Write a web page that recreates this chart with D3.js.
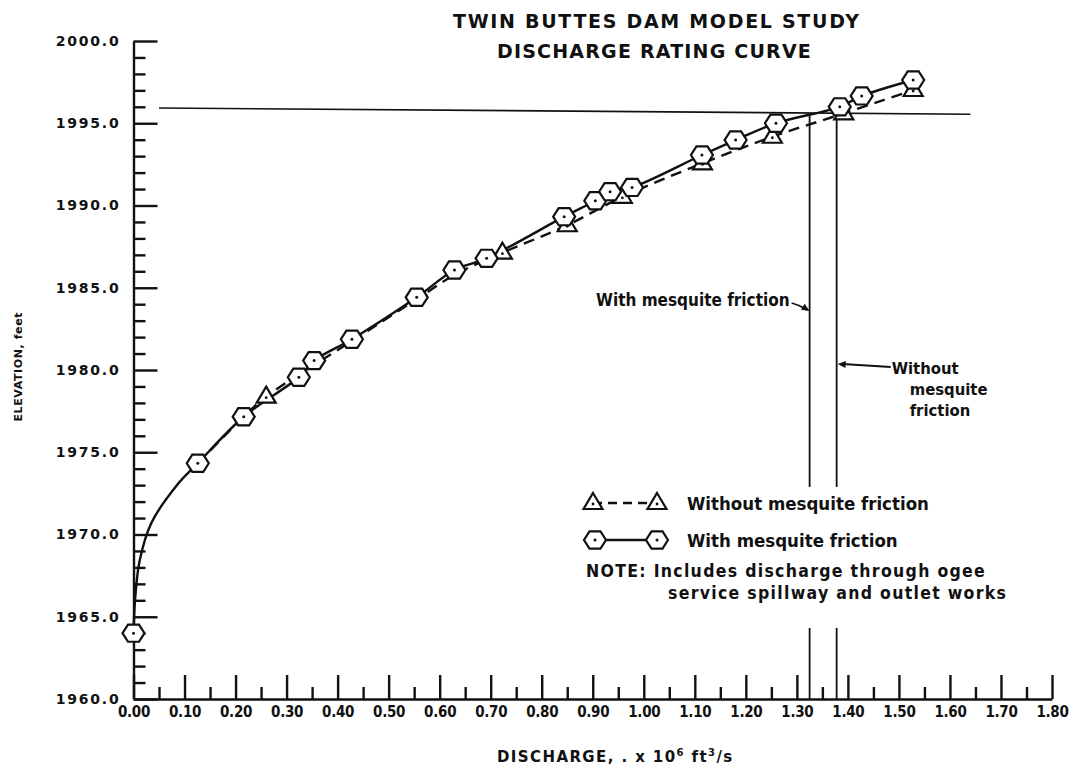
<!DOCTYPE html>
<html>
<head>
<meta charset="utf-8">
<script src="https://cdn.jsdelivr.net/npm/d3@7"></script>
<style>
  body { margin: 0; background: #fff; }
  text { fill: #111; }
</style>
</head>
<body>
<svg id="chart" width="1073" height="778"></svg>
<script>
// chart text
const titleLines = ["TWIN BUTTES DAM MODEL STUDY", "DISCHARGE RATING CURVE"];
const xTickValues = [0.00, 0.10, 0.20, 0.30, 0.40, 0.50, 0.60, 0.70, 0.80, 0.90,
                     1.00, 1.10, 1.20, 1.30, 1.40, 1.50, 1.60, 1.70, 1.80];
const yTickValues = [1960, 1965, 1970, 1975, 1980, 1985, 1990, 1995, 2000];

// discharge (x 10^6 ft3/s), elevation (ft)
const withFriction = [
  [0.000, 1964.0], [0.126, 1974.33], [0.216, 1977.16], [0.324, 1979.56], [0.354, 1980.57],
  [0.428, 1981.87], [0.555, 1984.42], [0.629, 1986.08], [0.692, 1986.79], [0.844, 1989.32],
  [0.905, 1990.29], [0.934, 1990.84], [0.977, 1991.10], [1.114, 1993.07], [1.180, 1993.98],
  [1.259, 1995.00], [1.384, 1996.00], [1.427, 1996.66], [1.528, 1997.63]
];
const withoutFriction = [
  [0.260, 1978.38], [0.723, 1987.13], [0.850, 1988.80], [0.958, 1990.53], [1.115, 1992.56],
  [1.252, 1994.18], [1.392, 1995.60], [1.528, 1997.02]
];
// hand drawn curve near the origin (no plotted points there)
const withCurveLead = [[0.003, 1966.0], [0.012, 1968.4], [0.035, 1970.7], [0.085, 1973.0]];
// dashed curve where it runs hidden under the solid one
const withoutCurveLead = [[0.126, 1974.33], [0.216, 1977.16]];
const withoutCurveHidden = [[0.430, 1981.80], [0.555, 1984.30], [0.630, 1985.80]];

// max water surface line and the two read-off discharges
const maxWaterLine = [[0.05, 1995.93], [1.64, 1995.55]];
const withQ = 1.325, withoutQ = 1.378;

const font = "'DejaVu Sans Condensed', 'DejaVu Sans', sans-serif";
const svg = d3.select("#chart");

const x = d3.scaleLinear().domain([0, 1.8]).range([133.5, 1052]);
const y = d3.scaleLinear().domain([1960, 2000]).range([699, 41]);

// titles
svg.selectAll(".title").data(titleLines).enter().append("text")
  .attr("x", (d, i) => i === 0 ? 453 : 497).attr("y", (d, i) => 28 + i * 30)
  .style("font-family", "'DejaVu Sans', sans-serif").style("font-weight", "bold")
  .style("font-size", "19px").style("letter-spacing", (d, i) => i === 0 ? "1.7px" : "1.2px")
  .text(d => d);

// y axis
const yMinor = d3.range(1960, 2001, 1).filter(v => v % 5 !== 0);
svg.append("g").attr("transform", `translate(${x(0)},0)`)
  .call(d3.axisLeft(y).tickValues(yMinor).tickSize(-12).tickSizeOuter(0).tickFormat(""))
  .call(g => g.select(".domain").remove());
const yAxis = svg.append("g").attr("transform", `translate(${x(0)},0)`)
  .call(d3.axisLeft(y).tickValues(yTickValues).tickSize(-24).tickSizeOuter(0)
    .tickPadding(13).tickFormat(d3.format(".1f")));
yAxis.selectAll("text").style("font-family", "'DejaVu Sans', sans-serif")
  .style("font-weight", "bold").style("font-size", "14px").style("letter-spacing", "1.8px");

// x axis
const xMinor = xTickValues.slice(0, -1).map(v => v + 0.05);
svg.append("g").attr("transform", `translate(0,${y(1960)})`)
  .call(d3.axisBottom(x).tickValues(xMinor).tickSize(-12).tickSizeOuter(0).tickFormat(""))
  .call(g => g.select(".domain").remove());
const xAxis = svg.append("g").attr("transform", `translate(0,${y(1960)})`)
  .call(d3.axisBottom(x).tickValues(xTickValues).tickSize(-24).tickSizeOuter(0)
    .tickPadding(7).tickFormat(d3.format(".2f")));
xAxis.selectAll("text").style("font-family", font)
  .style("font-weight", "bold").style("font-size", "15px").style("letter-spacing", "-0.3px");

svg.selectAll(".domain, .tick line").attr("stroke", "#111").attr("stroke-width", 2.4);

// axis titles
svg.append("text")
  .attr("transform", `translate(22,${y(1980.2)}) rotate(-90)`)
  .attr("text-anchor", "middle")
  .style("font-family", "'DejaVu Sans', sans-serif").style("font-weight", "bold")
  .style("font-size", "11px").style("letter-spacing", "0.6px")
  .text("ELEVATION, feet");

const xt = svg.append("text").attr("x", 497).attr("y", 762)
  .style("font-family", "'DejaVu Sans', sans-serif").style("font-weight", "bold")
  .style("font-size", "15px").style("letter-spacing", "1.4px");
xt.append("tspan").text("DISCHARGE, . x 10");
xt.append("tspan").attr("dy", -6).style("font-size", "10px").text("6");
xt.append("tspan").attr("dy", 6).text(" ft");
xt.append("tspan").attr("dy", -6).style("font-size", "10px").text("3");
xt.append("tspan").attr("dy", 6).text("/s");

// reference lines
const lineGen = d3.line().x(d => x(d[0])).y(d => y(d[1]));
svg.append("path").datum(maxWaterLine).attr("d", lineGen)
  .attr("fill", "none").attr("stroke", "#111").attr("stroke-width", 1.6);

function waterAt(q) {
  const [a, b] = maxWaterLine;
  return a[1] + (b[1] - a[1]) * (q - a[0]) / (b[0] - a[0]);
}
// drop lines are broken where the legend sits
const legendGapTop = 487, legendGapBottom = 628;
[withQ, withoutQ].forEach(q => {
  [[y(waterAt(q)), legendGapTop], [legendGapBottom, y(1960)]].forEach(([y1, y2]) => {
    svg.append("line")
      .attr("x1", x(q)).attr("x2", x(q)).attr("y1", y1).attr("y2", y2)
      .attr("stroke", "#111").attr("stroke-width", 1.8);
  });
});

// curves
const curveGen = d3.line().x(d => x(d[0])).y(d => y(d[1])).curve(d3.curveCatmullRom.alpha(0.5));
const withCurve = [withFriction[0], ...withCurveLead, ...withFriction.slice(1)];
const withoutCurve = [...withoutCurveLead, ...withoutFriction, ...withoutCurveHidden]
  .sort((a, b) => a[0] - b[0]);

svg.append("path").datum(withoutCurve).attr("d", curveGen)
  .attr("fill", "none").attr("stroke", "#111").attr("stroke-width", 2.4)
  .attr("stroke-dasharray", "11,7");
svg.append("path").datum(withCurve).attr("d", curveGen)
  .attr("fill", "none").attr("stroke", "#111").attr("stroke-width", 2.4);

// markers
const hexR = 11;
const hexPath = d3.range(6).map(i => {
  const a = i * Math.PI / 3;
  return [hexR * Math.cos(a), hexR * 0.9 * Math.sin(a)];
});
const triPath = [[0, -10], [9.5, 6], [-9.5, 6]];

function drawTri(g, cx, cy) {
  g.append("polygon").attr("points", triPath.map(p => [cx + p[0], cy + p[1]].join(",")).join(" "))
    .attr("fill", "#fff").attr("stroke", "#111").attr("stroke-width", 2.2);
  g.append("circle").attr("cx", cx).attr("cy", cy + 1).attr("r", 1.4).attr("fill", "#111");
}
function drawHex(g, cx, cy) {
  g.append("polygon").attr("points", hexPath.map(p => [cx + p[0], cy + p[1]].join(",")).join(" "))
    .attr("fill", "#fff").attr("stroke", "#111").attr("stroke-width", 2.2);
  g.append("circle").attr("cx", cx).attr("cy", cy).attr("r", 1.5).attr("fill", "#111");
}

const markers = svg.append("g");
withoutFriction.forEach(d => drawTri(markers, x(d[0]), y(d[1])));
withFriction.forEach(d => drawHex(markers, x(d[0]), y(d[1])));

// annotations
const annFont = g => g.style("font-family", font).style("font-weight", "bold");

function arrowHead(tx, ty, fx, fy) {
  const ang = Math.atan2(ty - fy, tx - fx);
  const L = 8, W = 3.5;
  const bx = tx - L * Math.cos(ang), by = ty - L * Math.sin(ang);
  const pts = [[tx, ty],
    [bx + W * Math.sin(ang), by - W * Math.cos(ang)],
    [bx - W * Math.sin(ang), by + W * Math.cos(ang)]];
  svg.append("polygon").attr("points", pts.map(p => p.join(",")).join(" ")).attr("fill", "#111");
}

svg.append("text").attr("x", x(withQ) - 20).attr("y", 306).attr("text-anchor", "end")
  .call(annFont).style("font-size", "17px").text("With mesquite friction");
svg.append("path")
  .attr("d", `M${x(withQ) - 18},303 Q${x(withQ) - 10},305 ${x(withQ) - 2},310`)
  .attr("fill", "none").attr("stroke", "#111").attr("stroke-width", 1.5);
arrowHead(x(withQ), 311, x(withQ) - 8, 306);

svg.append("line").attr("x1", x(withoutQ) + 54).attr("y1", 367)
  .attr("x2", x(withoutQ) + 6).attr("y2", 364)
  .attr("stroke", "#111").attr("stroke-width", 1.8);
arrowHead(x(withoutQ) + 1, 364, x(withoutQ) + 20, 365);
const wo = svg.append("text").call(annFont).style("font-size", "16.5px");
wo.append("tspan").attr("x", x(withoutQ) + 55).attr("y", 374).text("Without");
wo.append("tspan").attr("x", x(withoutQ) + 73).attr("y", 395).text("mesquite");
wo.append("tspan").attr("x", x(withoutQ) + 73).attr("y", 416).text("friction");

// legend
const lg = svg.append("g");
lg.append("line").attr("x1", 593).attr("x2", 657).attr("y1", 503).attr("y2", 503)
  .attr("stroke", "#111").attr("stroke-width", 2.4).attr("stroke-dasharray", "9,6");
drawTri(lg, 593, 503);
drawTri(lg, 657, 503);
lg.append("line").attr("x1", 595).attr("x2", 657).attr("y1", 540).attr("y2", 540)
  .attr("stroke", "#111").attr("stroke-width", 2.4);
drawHex(lg, 595, 540);
drawHex(lg, 657, 540);
lg.append("text").attr("x", 687).attr("y", 510).call(annFont).style("font-size", "18.5px")
  .text("Without mesquite friction");
lg.append("text").attr("x", 687).attr("y", 547).call(annFont).style("font-size", "18.5px")
  .text("With mesquite friction");
lg.append("text").attr("x", 586).attr("y", 577).call(annFont).style("font-size", "17.5px")
  .style("letter-spacing", "1.3px").text("NOTE: Includes discharge through ogee");
lg.append("text").attr("x", 668).attr("y", 599).call(annFont).style("font-size", "17.5px")
  .style("letter-spacing", "1.3px").text("service spillway and outlet works");
</script>
</body>
</html>
